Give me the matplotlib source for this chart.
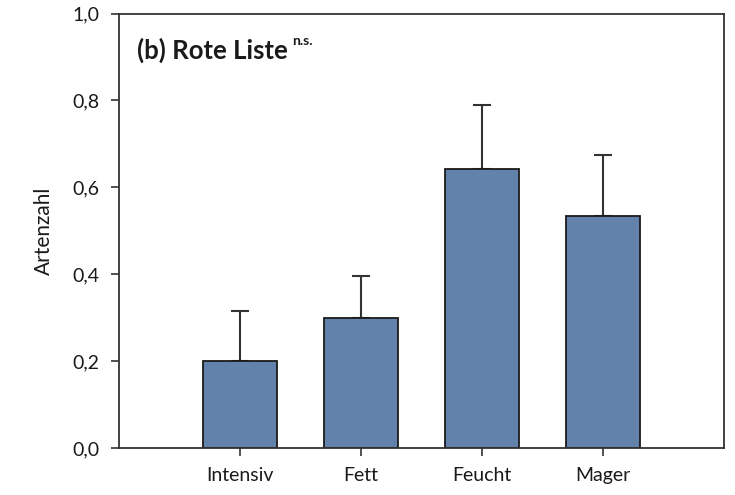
import matplotlib
matplotlib.use("Agg")
import matplotlib.pyplot as plt
from matplotlib.ticker import FuncFormatter

categories = ["Intensiv", "Fett", "Feucht", "Mager"]
means = [0.20, 0.30, 0.642, 0.534]
errors = [0.116, 0.097, 0.147, 0.140]
yticks = [0.0, 0.2, 0.4, 0.6, 0.8, 1.0]

plt.rcParams['font.family'] = ['Lato', 'DejaVu Sans']

fig = plt.figure(figsize=(7.35, 4.95), dpi=100)
ax = fig.add_axes([0.1619, 0.0949, 0.8231, 0.8778])

x = list(range(len(categories)))
ax.bar(x, means, width=0.61, color="#6282AC", edgecolor="#1a1a1a", linewidth=1.3, zorder=2)
ax.errorbar(x, means, yerr=[[0]*len(errors), errors], fmt="none", ecolor="#333333",
            elinewidth=1.5, capsize=6.5, capthick=1.5, zorder=1)

ax.set_xlim(-1, 4)
ax.set_ylim(0, 1.0)
ax.set_yticks(yticks)
ax.yaxis.set_major_formatter(FuncFormatter(lambda v, p: f"{v:.1f}".replace(".", ",")))
ax.set_xticks(x)
ax.set_xticklabels(categories)
for s in ax.spines.values():
    s.set_color("#333333")
    s.set_linewidth(1.3)
ax.tick_params(axis="both", direction="out", length=6, width=1.2, color="#333333",
               labelsize=14, pad=8, labelcolor="#1a1a1a")
ax.set_ylabel("Artenzahl", fontsize=15, labelpad=13, color="#1a1a1a")

title = ax.text(0.03, 0.895, "(b) Rote Liste", transform=ax.transAxes, fontsize=18.5,
                fontweight="bold", color="#1a1a1a", va="baseline")
ax.annotate("n.s.", xy=(1.0, 1.0), xycoords=title, xytext=(3, 2.5),
            textcoords="offset points", fontsize=10, fontweight="bold",
            color="#1a1a1a", ha="left", va="top")

fig.savefig("out.png", dpi=100)
